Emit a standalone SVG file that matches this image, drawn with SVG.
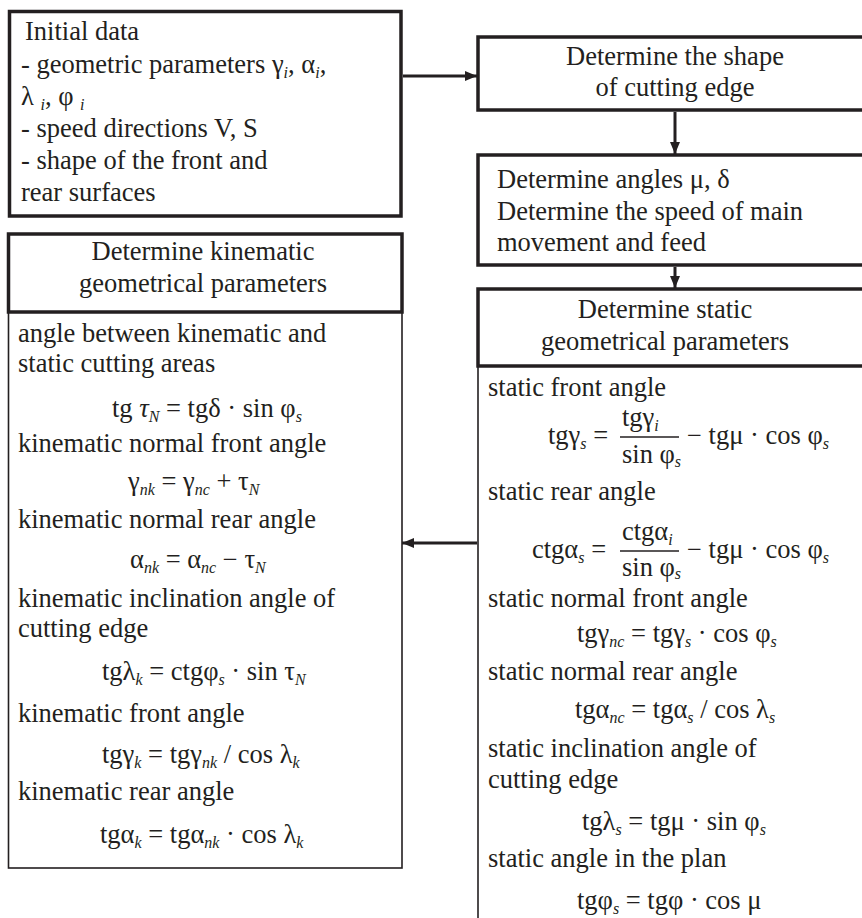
<svg xmlns="http://www.w3.org/2000/svg" width="862" height="918" viewBox="0 0 862 918">
<style>
.t{font-family:"Liberation Serif","Times New Roman",serif;font-size:26.5px;fill:#231f20}
.c{text-anchor:middle}
.s{font-size:16px;font-style:italic}
.i{font-style:italic}
.box{fill:#fff;stroke:#231f20;stroke-width:3.5}
.thin{fill:none;stroke:#231f20;stroke-width:1.6}
.con{stroke:#231f20;stroke-width:3;fill:none}
.bar{stroke:#231f20;stroke-width:1.3}
</style>
<defs>
<marker id="ah" viewBox="0 0 12 10" refX="12" refY="5" markerWidth="12" markerHeight="10" markerUnits="userSpaceOnUse" orient="auto">
<path d="M0,0 L12,5 L0,10 z" fill="#231f20"/>
</marker>
</defs>
<rect width="862" height="918" fill="#fff"/>

<g id="initial">
<rect class="box" x="9.5" y="11.5" width="391.5" height="204.5"/>
<text class="t" x="25" y="40">Initial data</text>
<text class="t" x="21" y="72.5">- geometric parameters γ<tspan class="s" dy="5">i</tspan><tspan dy="-5">, α</tspan><tspan class="s" dy="5">i</tspan><tspan dy="-5">,</tspan></text>
<text class="t" x="21" y="104.5">λ <tspan class="s" dy="5">i</tspan><tspan dy="-5">, φ </tspan><tspan class="s" dy="5">i</tspan></text>
<text class="t" x="21" y="137">- speed directions V, S</text>
<text class="t" x="21" y="169">- shape of the front and</text>
<text class="t" x="21" y="201">rear surfaces</text>
</g>

<g id="shape">
<rect class="box" x="478" y="37" width="400" height="73"/>
<text class="t c" x="675" y="65">Determine the shape</text>
<text class="t c" x="675" y="96">of cutting edge</text>
</g>

<g id="angles">
<rect class="box" x="478" y="155" width="400" height="110"/>
<text class="t" x="497" y="188">Determine angles μ, δ</text>
<text class="t" x="497" y="220">Determine the speed of main</text>
<text class="t" x="497" y="251">movement and feed</text>
</g>

<g id="static">
<path class="thin" d="M478,366 V930"/>
<rect class="box" x="478" y="289" width="400" height="77"/>
<text class="t c" x="665" y="318">Determine static</text>
<text class="t c" x="665" y="350">geometrical parameters</text>
<text class="t" x="488" y="396">static front angle</text>
<text class="t" x="548" y="444">tgγ<tspan class="s" dy="5">s</tspan><tspan dy="-5"> =</tspan></text>
<text class="t" x="622" y="426">tgγ<tspan class="s" dy="5">i</tspan></text>
<line class="bar" x1="620" y1="437" x2="679" y2="437"/>
<text class="t" x="622" y="463">sin φ<tspan class="s" dy="4">s</tspan></text>
<text class="t" x="687" y="444">− tgμ · cos φ<tspan class="s" dy="5">s</tspan></text>
<text class="t" x="488" y="500">static rear angle</text>
<text class="t" x="532" y="558">ctgα<tspan class="s" dy="5">s</tspan><tspan dy="-5"> =</tspan></text>
<text class="t" x="622" y="540">ctgα<tspan class="s" dy="5">i</tspan></text>
<line class="bar" x1="620" y1="551" x2="679" y2="551"/>
<text class="t" x="622" y="576">sin φ<tspan class="s" dy="3">s</tspan></text>
<text class="t" x="687" y="558">− tgμ · cos φ<tspan class="s" dy="5">s</tspan></text>
<text class="t" x="488" y="607">static normal front angle</text>
<text class="t" x="577" y="642">tgγ<tspan class="s" dy="5">nc</tspan><tspan dy="-5"> = tgγ</tspan><tspan class="s" dy="5">s</tspan><tspan dy="-5"> · cos φ</tspan><tspan class="s" dy="5">s</tspan></text>
<text class="t" x="488" y="680">static normal rear angle</text>
<text class="t" x="575" y="718">tgα<tspan class="s" dy="5">nc</tspan><tspan dy="-5"> = tgα</tspan><tspan class="s" dy="5">s</tspan><tspan dy="-5"> / cos λ</tspan><tspan class="s" dy="5">s</tspan></text>
<text class="t" x="488" y="757">static inclination angle of</text>
<text class="t" x="488" y="788">cutting edge</text>
<text class="t" x="582" y="830">tgλ<tspan class="s" dy="5">s</tspan><tspan dy="-5"> = tgμ · sin φ</tspan><tspan class="s" dy="5">s</tspan></text>
<text class="t" x="488" y="867">static angle in the plan</text>
<text class="t" x="577" y="909">tgφ<tspan class="s" dy="5">s</tspan><tspan dy="-5"> = tgφ · cos μ</tspan></text>
</g>

<g id="kinematic">
<rect class="thin" x="8.5" y="312" width="393.5" height="556"/>
<rect class="box" x="8.5" y="234" width="393.5" height="78"/>
<text class="t c" x="203" y="260">Determine kinematic</text>
<text class="t c" x="203" y="292">geometrical parameters</text>
<text class="t" x="18" y="342">angle between kinematic and</text>
<text class="t" x="18" y="372">static cutting areas</text>
<text class="t" x="112" y="417">tg <tspan class="i">τ</tspan><tspan class="s" dy="5">N</tspan><tspan dy="-5"> = tgδ · sin φ</tspan><tspan class="s" dy="5">s</tspan></text>
<text class="t" x="18" y="452">kinematic normal front angle</text>
<text class="t" x="128" y="490">γ<tspan class="s" dy="5">nk</tspan><tspan dy="-5"> = γ</tspan><tspan class="s" dy="5">nc</tspan><tspan dy="-5"> + τ</tspan><tspan class="s" dy="5">N</tspan></text>
<text class="t" x="18" y="528">kinematic normal rear angle</text>
<text class="t" x="130" y="568">α<tspan class="s" dy="5">nk</tspan><tspan dy="-5"> = α</tspan><tspan class="s" dy="5">nc</tspan><tspan dy="-5"> − τ</tspan><tspan class="s" dy="5">N</tspan></text>
<text class="t" x="18" y="607">kinematic inclination angle of</text>
<text class="t" x="18" y="637">cutting edge</text>
<text class="t" x="102" y="680">tgλ<tspan class="s" dy="5">k</tspan><tspan dy="-5"> = ctgφ</tspan><tspan class="s" dy="5">s</tspan><tspan dy="-5"> · sin τ</tspan><tspan class="s" dy="5">N</tspan></text>
<text class="t" x="18" y="722">kinematic front angle</text>
<text class="t" x="102" y="763">tgγ<tspan class="s" dy="5">k</tspan><tspan dy="-5"> = tgγ</tspan><tspan class="s" dy="5">nk</tspan><tspan dy="-5"> / cos λ</tspan><tspan class="s" dy="5">k</tspan></text>
<text class="t" x="18" y="800">kinematic rear angle</text>
<text class="t" x="100" y="843">tgα<tspan class="s" dy="5">k</tspan><tspan dy="-5"> = tgα</tspan><tspan class="s" dy="5">nk</tspan><tspan dy="-5"> · cos λ</tspan><tspan class="s" dy="5">k</tspan></text>
</g>

<g id="connectors">
<path class="con" d="M403,76 H477" marker-end="url(#ah)"/>
<path class="con" d="M675,112 V154" marker-end="url(#ah)"/>
<path class="con" d="M675,267 V288" marker-end="url(#ah)"/>
<path class="con" d="M477,543 H402" marker-end="url(#ah)"/>
</g>
</svg>
